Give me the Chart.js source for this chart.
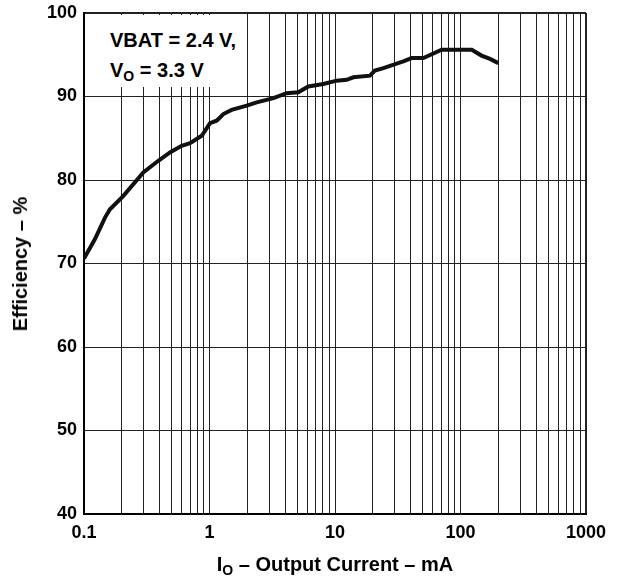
<!DOCTYPE html>
<html>
<head>
<meta charset="utf-8">
<script src="https://cdn.jsdelivr.net/npm/chart.js@4"></script>
<style>
  body { margin: 0; background: #fff; }
  #wrap { position: relative; width: 624px; height: 576px; font-family: 'Liberation Sans', Arial, sans-serif; font-weight: bold; color: #000; }
  .lbl { position: absolute; white-space: nowrap; font-size: 20px; line-height: 20px; }
  .lbl sub { font-size: 0.7em; vertical-align: -0.3em; line-height: 0; }
  #note { position: absolute; left: 86px; top: 15px; width: 154px; height: 72px; background: #fff; }
</style>
</head>
<body>
<div id="wrap">
  <canvas id="effChart" width="624" height="576"></canvas>
  <div id="note"></div>
  <div class="lbl" style="left:110px; top:30px;">VBAT = 2.4 V,</div>
  <div class="lbl" style="left:110px; top:60px;">V<sub>O</sub> = 3.3 V</div>
  <div class="lbl" style="left:335px; top:554px; transform:translateX(-50%);">I<sub>O</sub> – Output Current – mA</div>
  <div class="lbl" style="left:20px; top:264px; transform:translate(-50%,-50%) rotate(-90deg);">Efficiency – %</div>
</div>
<script>
// values
const currentMA = [0.1, 0.122, 0.147, 0.161, 0.206, 0.297, 0.391, 0.484, 0.6, 0.7, 0.867, 1.01, 1.14, 1.29, 1.5, 1.98, 2.38, 3.23, 4.12, 5.1, 6.13, 8.07, 10.3, 12.4, 14, 19, 20.8, 24.3, 35, 40.8, 50.6, 70.8, 123, 147, 172, 200];
const efficiency = [70.6, 72.9, 75.5, 76.5, 78.1, 80.9, 82.3, 83.3, 84.1, 84.4, 85.3, 86.8, 87.1, 87.9, 88.4, 88.9, 89.3, 89.8, 90.4, 90.5, 91.2, 91.5, 91.9, 92.0, 92.3, 92.5, 93.1, 93.4, 94.2, 94.6, 94.6, 95.6, 95.6, 94.9, 94.5, 94.0];

const xTickLabels = [0.1, 1, 10, 100, 1000];
const yTickLabels = [40, 50, 60, 70, 80, 90, 100];

// grid lines at 1..9 in every decade
const xGrid = [];
xTickLabels.slice(0, -1).forEach(d => {
    for (let k = 1; k <= 9; k++) xGrid.push(k === 1 ? d : d * k);
});
xGrid.push(xTickLabels[xTickLabels.length - 1]);

const tickFont = { family: "'Liberation Sans', Arial, sans-serif", size: 18, weight: 'bold' };

new Chart(document.getElementById('effChart'), {
    type: 'line',
    data: {
        datasets: [{
            data: currentMA.map((x, i) => ({ x: x, y: efficiency[i] })),
            borderColor: '#111',
            borderWidth: 4,
            pointRadius: 0,
            tension: 0,
            fill: false
        }]
    },
    options: {
        responsive: false,
        animation: false,
        plugins: { legend: { display: false }, tooltip: { enabled: false } },
        layout: { autoPadding: false, padding: { top: 13, right: 38, left: 0, bottom: 0 } },
        scales: {
            x: {
                type: 'logarithmic',
                min: 0.1,
                max: 1000,
                afterBuildTicks: s => { s.ticks = xGrid.map(v => ({ value: v })); },
                afterFit: s => { s.height = 62; s.paddingLeft = 0; s.paddingRight = 0; },
                ticks: {
                    autoSkip: false,
                    maxRotation: 0,
                    padding: 8,
                    color: '#000',
                    font: tickFont,
                    callback: v => xTickLabels.includes(v) ? String(v) : ''
                },
                grid: { color: '#222', lineWidth: c => (c.tick && c.tick.value === 1000) ? 2 : 1, drawTicks: false },
                border: { color: '#000', width: 2 }
            },
            y: {
                min: 40,
                max: 100,
                afterBuildTicks: s => { s.ticks = yTickLabels.map(v => ({ value: v })); },
                afterFit: s => { s.width = 84; s.paddingTop = 0; s.paddingBottom = 0; },
                ticks: { padding: 7, color: '#000', font: tickFont },
                grid: { color: '#222', lineWidth: c => (c.tick && c.tick.value === 100) ? 2 : 1, drawTicks: false },
                border: { color: '#000', width: 2 }
            }
        }
    }
});
</script>
</body>
</html>
